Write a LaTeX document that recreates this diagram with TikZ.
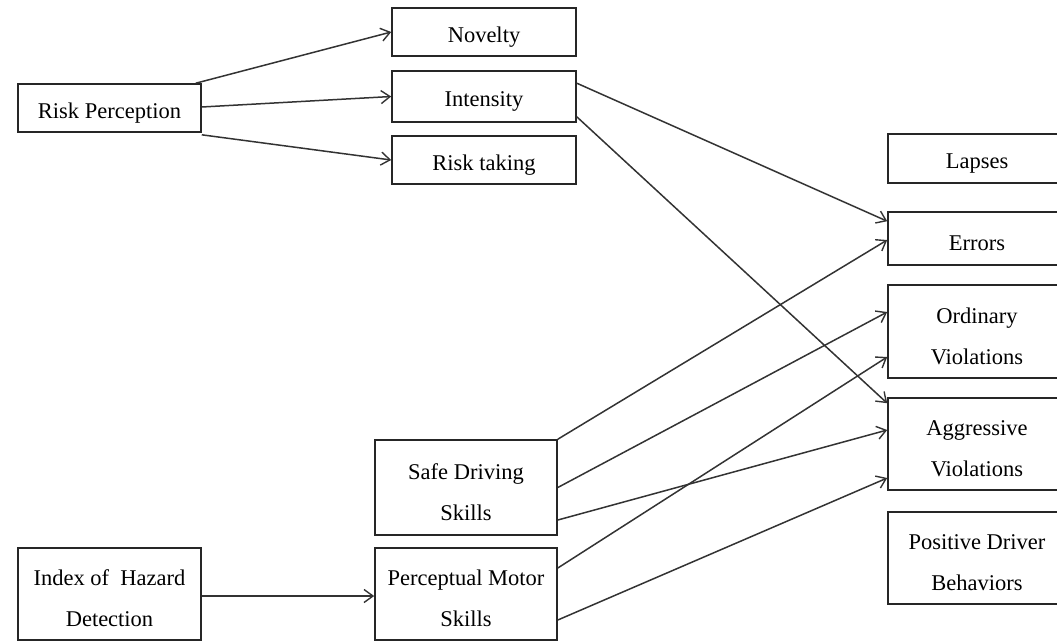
\documentclass[tikz,border=0pt]{standalone}
\usepackage{fontspec}
\setmainfont{Liberation Serif}
\usetikzlibrary{arrows.meta}
% taller first line pushes the text block a little below the box centre
\newcommand\dn{\rule{0pt}{25pt}}
\begin{document}
\begin{tikzpicture}[x=1pt,y=-1pt,
  box/.style={draw=black!85,line width=1.6pt,inner sep=0pt,align=center,
    font=\fontsize{22.5}{41}\selectfont},
  link/.style={draw=black!80,line width=1.5pt,-{Straight Barb[length=9pt,width=13pt,line width=1.4pt]}}]
\useasboundingbox (0,0) rectangle (1057,641);
% left column
\node[box,minimum width=183pt,minimum height=48pt] (rp) at (109.5,108) {\dn Risk Perception};
\node[box,minimum width=183pt,minimum height=92pt] (ihd) at (109.5,594) {\dn Index of~ Hazard\\Detection};
% middle column
\node[box,minimum width=184pt,minimum height=48pt] (nov) at (484,32) {\dn Novelty};
\node[box,minimum width=184pt,minimum height=51pt] (int) at (484,96.5) {\dn Intensity};
\node[box,minimum width=184pt,minimum height=48pt] (rt) at (484,160) {\dn Risk taking};
\node[box,minimum width=182pt,minimum height=95pt] (sds) at (466,487.5) {\dn Safe Driving\\Skills};
\node[box,minimum width=182pt,minimum height=92pt] (pms) at (466,594) {\dn Perceptual Motor\\Skills};
% right column (runs past the edge)
\node[box,minimum width=178pt,minimum height=49pt] (lap) at (977,158.5) {\dn Lapses};
\node[box,minimum width=178pt,minimum height=53pt] (err) at (977,238.5) {\dn Errors};
\node[box,minimum width=178pt,minimum height=93pt] (ov) at (977,331.5) {\dn Ordinary\\Violations};
\node[box,minimum width=178pt,minimum height=92pt] (av) at (977,444) {\dn Aggressive\\Violations};
\node[box,minimum width=178pt,minimum height=92pt] (pdb) at (977,558) {\dn Positive Driver\\Behaviors};
% risk perception links
\draw[link] ([xshift=-6pt]rp.north east) -- (nov.west);
\draw[link] ([yshift=1pt]rp.east) -- (int.west);
\draw[link] ([yshift=-2pt]rp.south east) -- (rt.west);
% intensity links
\draw[link] ([yshift=-13pt]int.north east) -- ([yshift=-10pt]err.north west);
\draw[link] ([yshift=6pt]int.south east) -- ([yshift=-6pt]av.north west);
% safe driving links
\draw[link] (sds.north east) -- ([yshift=-1.5pt]err.west);
\draw[link] (sds.east) -- ([yshift=19.5pt]ov.west);
\draw[link] ([yshift=-32.5pt]sds.east) -- ([yshift=14pt]av.west);
% perceptual motor links
\draw[link] ([yshift=26pt]pms.east) -- ([yshift=-25.5pt]ov.west);
\draw[link] ([yshift=-26pt]pms.east) -- ([yshift=-34pt]av.west);
% hazard detection link
\draw[link] ([yshift=-2pt]ihd.east) -- ([yshift=-2pt]pms.west);
\end{tikzpicture}
\end{document}
